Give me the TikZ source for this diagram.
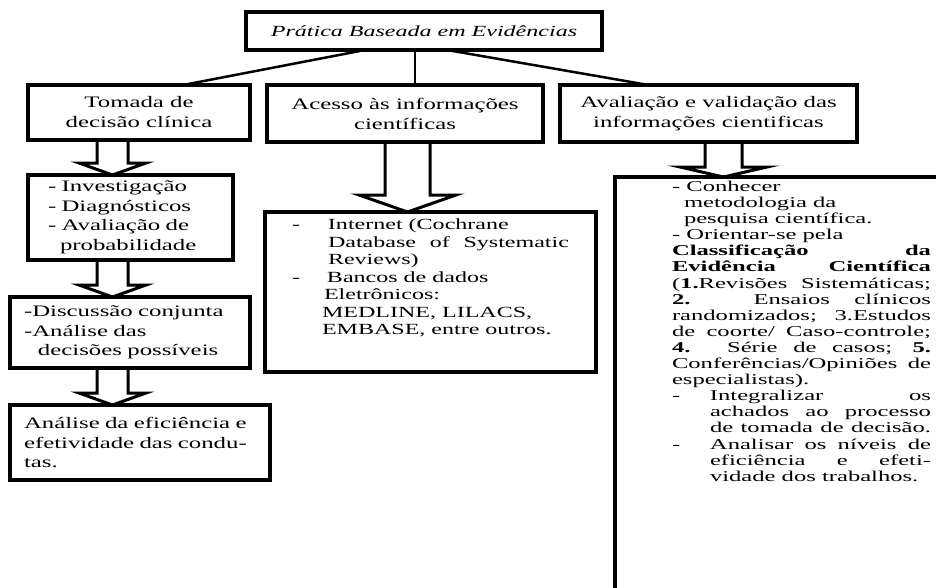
\documentclass[tikz,border=0pt]{standalone}
\usepackage{fontspec}
\setmainfont{Liberation Serif}[FakeStretch=1.55]
\newfontfamily\widefont{Liberation Serif}[FakeStretch=1.64]
\usetikzlibrary{calc}
\hbadness=10000
\hfuzz=20pt
\newcommand\fillline[1]{\makebox[\linewidth][s]{#1}}

\begin{document}
\begin{tikzpicture}[x=1pt,y=-1pt,
  box/.style={draw,line width=4pt,anchor=north west,outer sep=0pt,inner ysep=2pt},
  hdr/.style={box,align=center,font=\fontsize{16}{20}\selectfont},
  lst/.style={box,align=left,font=\fontsize{16}{19.5}\selectfont},
  link/.style={line width=2.5pt},
  barrow/.style n args={3}{line width=3pt,line join=miter,
    to path={($(\tikztostart)+(-#1,0)$) -- ($(\tikztostart |- \tikztotarget)+(-#1,-#3)$)
      -- ($(\tikztostart |- \tikztotarget)+(-#2,-#3)$) -- (\tikztostart |- \tikztotarget)
      -- ($(\tikztostart |- \tikztotarget)+(#2,-#3)$) -- ($(\tikztostart |- \tikztotarget)+(#1,-#3)$)
      -- ($(\tikztostart)+(#1,0)$)}}]
  \useasboundingbox (0,0) rectangle (936,587);
  \clip (0,0) rectangle (936,587);
  \node[hdr,minimum width=356pt,minimum height=38pt,font=\fontsize{15.5}{19}\selectfont\itshape] (pbe) at (246,12) {Prática Baseada em Evidências};
  \node[hdr,minimum width=222pt,minimum height=55pt] (tdc) at (28,85) {Tomada de\\decisão clínica};
  \node[hdr,minimum width=276pt,minimum height=57pt] (aic) at (267,85) {Acesso às informações\\científicas};
  \node[hdr,minimum width=297pt,minimum height=57pt] (avi) at (560,85) {Avaliação e validação das\\informações cientificas};
  \node[lst,text width=165pt,inner xsep=20pt,minimum height=85pt] (inv) at (28,175) {- Investigação\\- Diagnósticos\\- Avaliação de\\\hspace*{12pt}probabilidade};
  \node[lst,text width=212pt,inner xsep=14pt,minimum height=71pt] (dsc) at (10,297) {-Discussão conjunta\\-Análise das\\\hspace*{14pt}decisões possíveis};
  \node[lst,text width=232pt,inner xsep=14pt,minimum height=75pt] (efi) at (10,405) {Análise da eficiência e\\efetividade das condu-\\tas.};
  \node[box,inner xsep=27pt,inner ysep=7pt,font=\fontsize{15.5}{17.5}\selectfont] (bds) at (265,212) {%
    \parbox[t][146pt][t]{277pt}{%
    \makebox[36pt][l]{-}Internet (Cochrane\newline
    \fillline{\hspace*{36pt}Database of Systematic}\newline
    \hspace*{36pt}Reviews)\newline
    \makebox[35pt][l]{-}Bancos de dados\newline
    \hspace*{32pt}Eletrônicos:\newline
    \hspace*{30pt}MEDLINE, LILACS,\newline
    \hspace*{30pt}EMBASE, entre outros.}};
  \node[box,inner xsep=57pt,inner ysep=4pt,font=\widefont\fontsize{15}{16.1}\selectfont] (met) at (615,177) {%
    \parbox[t][420pt][t]{259pt}{%
    - Conhecer\newline
    \hspace*{12pt}metodologia da\newline
    \hspace*{12pt}pesquisa científica.\newline
    - Orientar-se pela\newline
    \fillline{\textbf{Classificação} \textbf{da}}\newline
    \fillline{\textbf{Evidência} \textbf{Científica}}\newline
    \fillline{(\textbf{1.}Revisões Sistemáticas;}\newline
    \fillline{\textbf{2.} Ensaios clínicos}\newline
    \fillline{randomizados; 3.Estudos}\newline
    \fillline{de coorte/ Caso-controle;}\newline
    \fillline{\textbf{4.} Série de casos; \textbf{5.}}\newline
    \fillline{Conferências/Opiniões de}\newline
    especialistas).\newline
    \fillline{\makebox[38pt][l]{-}Integralizar os}\newline
    \fillline{\hspace*{38pt}achados ao processo}\newline
    \fillline{\hspace*{38pt}de tomada de decisão.}\newline
    \fillline{\makebox[38pt][l]{-}Analisar os níveis de}\newline
    \fillline{\hspace*{38pt}eficiência e efeti-}\newline
    \hspace*{38pt}vidade dos trabalhos.}};
  \draw[link] ([xshift=-59pt]pbe.south) -- ([xshift=44pt]tdc.north);
  \draw[link] ([xshift=-9pt]pbe.south) -- ([xshift=10pt]aic.north);
  \draw[link] ([xshift=23pt]pbe.south) -- ([xshift=-60pt]avi.north);
  \draw[barrow={15.5}{33.5}{12}] ([xshift=-26.5pt]tdc.south) to (inv.north);
  \draw[barrow={15.5}{33.5}{12}] ([xshift=-18pt]inv.south) to (dsc.north);
  \draw[barrow={15.5}{33.5}{12}] ([xshift=-17.5pt]dsc.south) to (efi.north);
  \draw[barrow={22.5}{48.5}{17}] ([xshift=2.5pt]aic.south) to (bds.north);
  \draw[barrow={18.5}{43.5}{10}] ([xshift=15pt]avi.south) to (met.north);
\end{tikzpicture}
\end{document}
